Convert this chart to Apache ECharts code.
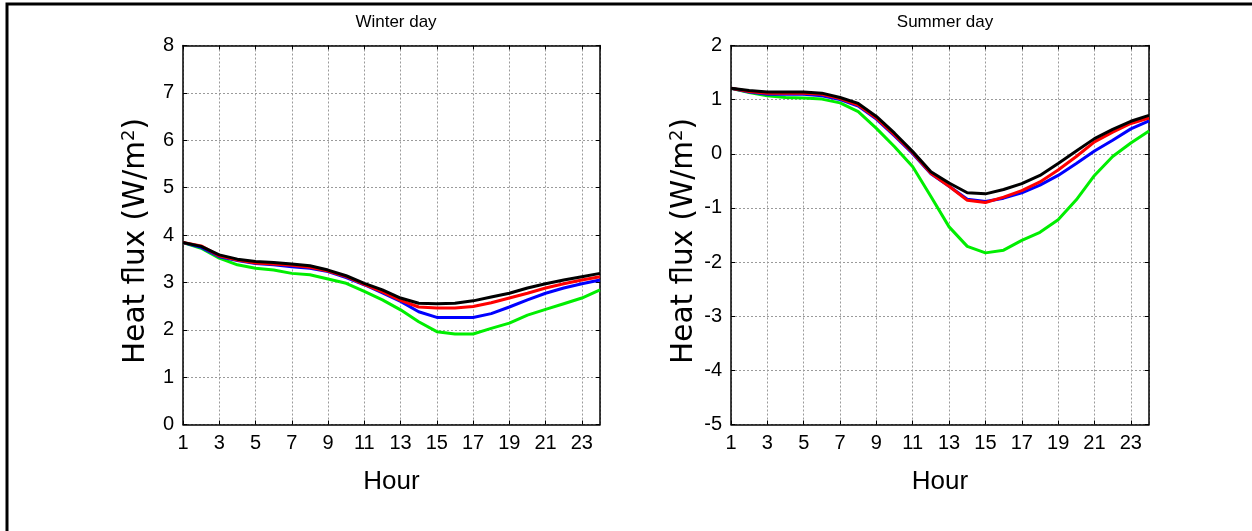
<!DOCTYPE html>
<html>
<head>
<meta charset="utf-8">
<script src="https://cdn.jsdelivr.net/npm/echarts@6/dist/echarts.min.js"></script>
<style>
  html, body { margin: 0; padding: 0; background: #fff; }
  #chart { width: 1252px; height: 531px; }
</style>
</head>
<body>
<div id="chart"></div>
<script>
// Hour of day
const hours = [1,2,3,4,5,6,7,8,9,10,11,12,13,14,15,16,17,18,19,20,21,22,23,24];

// Winter day heat flux (W/m2)
const winterBlack = [3.84,3.76,3.58,3.49,3.44,3.42,3.39,3.35,3.26,3.14,2.98,2.84,2.67,2.56,2.55,2.56,2.61,2.69,2.77,2.88,2.97,3.05,3.12,3.19];
const winterRed   = [3.84,3.77,3.56,3.47,3.41,3.39,3.36,3.32,3.24,3.12,2.96,2.80,2.62,2.48,2.46,2.46,2.49,2.57,2.67,2.77,2.88,2.97,3.05,3.12];
const winterBlue  = [3.84,3.74,3.54,3.46,3.40,3.37,3.33,3.30,3.23,3.10,2.95,2.78,2.60,2.38,2.26,2.26,2.26,2.34,2.48,2.63,2.77,2.88,2.97,3.05];
const winterGreen = [3.84,3.72,3.51,3.37,3.30,3.26,3.19,3.16,3.07,2.98,2.81,2.63,2.42,2.17,1.96,1.91,1.91,2.03,2.14,2.31,2.43,2.55,2.67,2.84];

// Summer day heat flux (W/m2)
const summerBlack = [1.21,1.17,1.14,1.14,1.14,1.12,1.04,0.93,0.69,0.38,0.04,-0.33,-0.54,-0.72,-0.74,-0.66,-0.55,-0.40,-0.18,0.05,0.28,0.45,0.60,0.71];
const summerRed   = [1.21,1.15,1.12,1.12,1.12,1.10,1.02,0.90,0.66,0.35,0.02,-0.36,-0.60,-0.86,-0.90,-0.80,-0.68,-0.52,-0.30,-0.05,0.22,0.40,0.56,0.66];
const summerBlue  = [1.21,1.14,1.10,1.10,1.10,1.07,1.00,0.88,0.64,0.33,0.00,-0.37,-0.60,-0.84,-0.88,-0.82,-0.72,-0.58,-0.40,-0.18,0.05,0.25,0.46,0.61];
const summerGreen = [1.21,1.13,1.07,1.04,1.03,1.01,0.94,0.78,0.47,0.13,-0.24,-0.79,-1.35,-1.71,-1.83,-1.78,-1.60,-1.45,-1.22,-0.85,-0.40,-0.05,0.20,0.42];

const panelTitles = ['Winter day', 'Summer day'];
const xName = 'Hour';

const FONT = '"Liberation Sans", Arial, sans-serif';
const WIDE = '"DejaVu Sans", "Liberation Sans", sans-serif';
const chart = echarts.init(document.getElementById('chart'), null, { renderer: 'canvas' });

const grids = [
  { left: 183, right: 652, top: 45.5, bottom: 106.5 },
  { left: 731, right: 103, top: 45.5, bottom: 106.5 }
];
const yRanges = [[0, 8], [-5, 2]];

const gridLine = { show: true, lineStyle: { color: '#9a9a9a', type: [2, 2], width: 1 } };
const tickIn = { show: true, inside: true, length: 4, lineStyle: { color: '#000', width: 1 } };

const xAxes = [], yAxes = [];
grids.forEach((g, i) => {
  xAxes.push({
    type: 'value', gridIndex: i, min: 1, max: 24, interval: 2,
    name: xName, nameLocation: 'middle', nameGap: 44,
    nameTextStyle: { fontFamily: FONT, fontSize: 26, color: '#000' },
    axisLine: { show: true, onZero: false, lineStyle: { color: '#000', width: 1.5 } },
    axisTick: tickIn,
    axisLabel: { fontFamily: FONT, fontSize: 20, color: '#000', margin: 9, showMaxLabel: false },
    splitLine: gridLine
  });
  xAxes.push({
    type: 'value', gridIndex: i, min: 1, max: 24, interval: 2, position: 'top',
    axisLine: { show: true, onZero: false, lineStyle: { color: '#000', width: 1.5 } },
    axisTick: tickIn, axisLabel: { show: false }, splitLine: { show: false }
  });
  yAxes.push({
    type: 'value', gridIndex: i, min: yRanges[i][0], max: yRanges[i][1], interval: 1,
    name: '{n|Heat flux (W/m}{s|2}{n|)}', nameLocation: 'middle', nameGap: 31, nameRotate: 90,
    nameTextStyle: {
      padding: [0, 12, 0, 0],
      rich: {
        n: { fontFamily: WIDE, fontSize: 29.5, color: '#000' },
        s: { fontFamily: WIDE, fontSize: 18, color: '#000', verticalAlign: 'top', padding: [0, 0, 14, 0] }
      }
    },
    axisLine: { show: true, onZero: false, lineStyle: { color: '#000', width: 1.5 } },
    axisTick: tickIn,
    axisLabel: { fontFamily: FONT, fontSize: 20, color: '#000', margin: 9 },
    splitLine: gridLine
  });
  yAxes.push({
    type: 'value', gridIndex: i, min: yRanges[i][0], max: yRanges[i][1], interval: 1, position: 'right',
    axisLine: { show: true, onZero: false, lineStyle: { color: '#000', width: 1.5 } },
    axisTick: tickIn, axisLabel: { show: false }, splitLine: { show: false }
  });
});

function line(name, vals, color, gi) {
  return {
    name, type: 'line', xAxisIndex: gi * 2, yAxisIndex: gi * 2,
    data: hours.map((h, k) => [h, vals[k]]),
    symbol: 'none', smooth: false, silent: true,
    lineStyle: { color, width: 3 }
  };
}

const series = [
  line('case 4', winterGreen, '#00ee00', 0),
  line('case 3', winterBlue, '#0000ff', 0),
  line('case 2', winterRed, '#ff0000', 0),
  line('case 1', winterBlack, '#000000', 0),
  line('case 4', summerGreen, '#00ee00', 1),
  line('case 3', summerBlue, '#0000ff', 1),
  line('case 2', summerRed, '#ff0000', 1),
  line('case 1', summerBlack, '#000000', 1)
];

chart.setOption({
  animation: false,
  backgroundColor: '#fff',
  title: [
    { text: panelTitles[0], left: 391, top: 9, textAlign: 'center',
      textStyle: { fontFamily: FONT, fontSize: 17, fontWeight: 'normal', color: '#000' } },
    { text: panelTitles[1], left: 940, top: 9, textAlign: 'center',
      textStyle: { fontFamily: FONT, fontSize: 17, fontWeight: 'normal', color: '#000' } }
  ],
  grid: grids,
  xAxis: xAxes,
  yAxis: yAxes,
  series,
  graphic: [
    { type: 'polyline', shape: { points: [[7, 540], [7, 4], [1260, 4]] },
      style: { stroke: '#000', lineWidth: 3, fill: null }, silent: true }
  ]
});
</script>
</body>
</html>
